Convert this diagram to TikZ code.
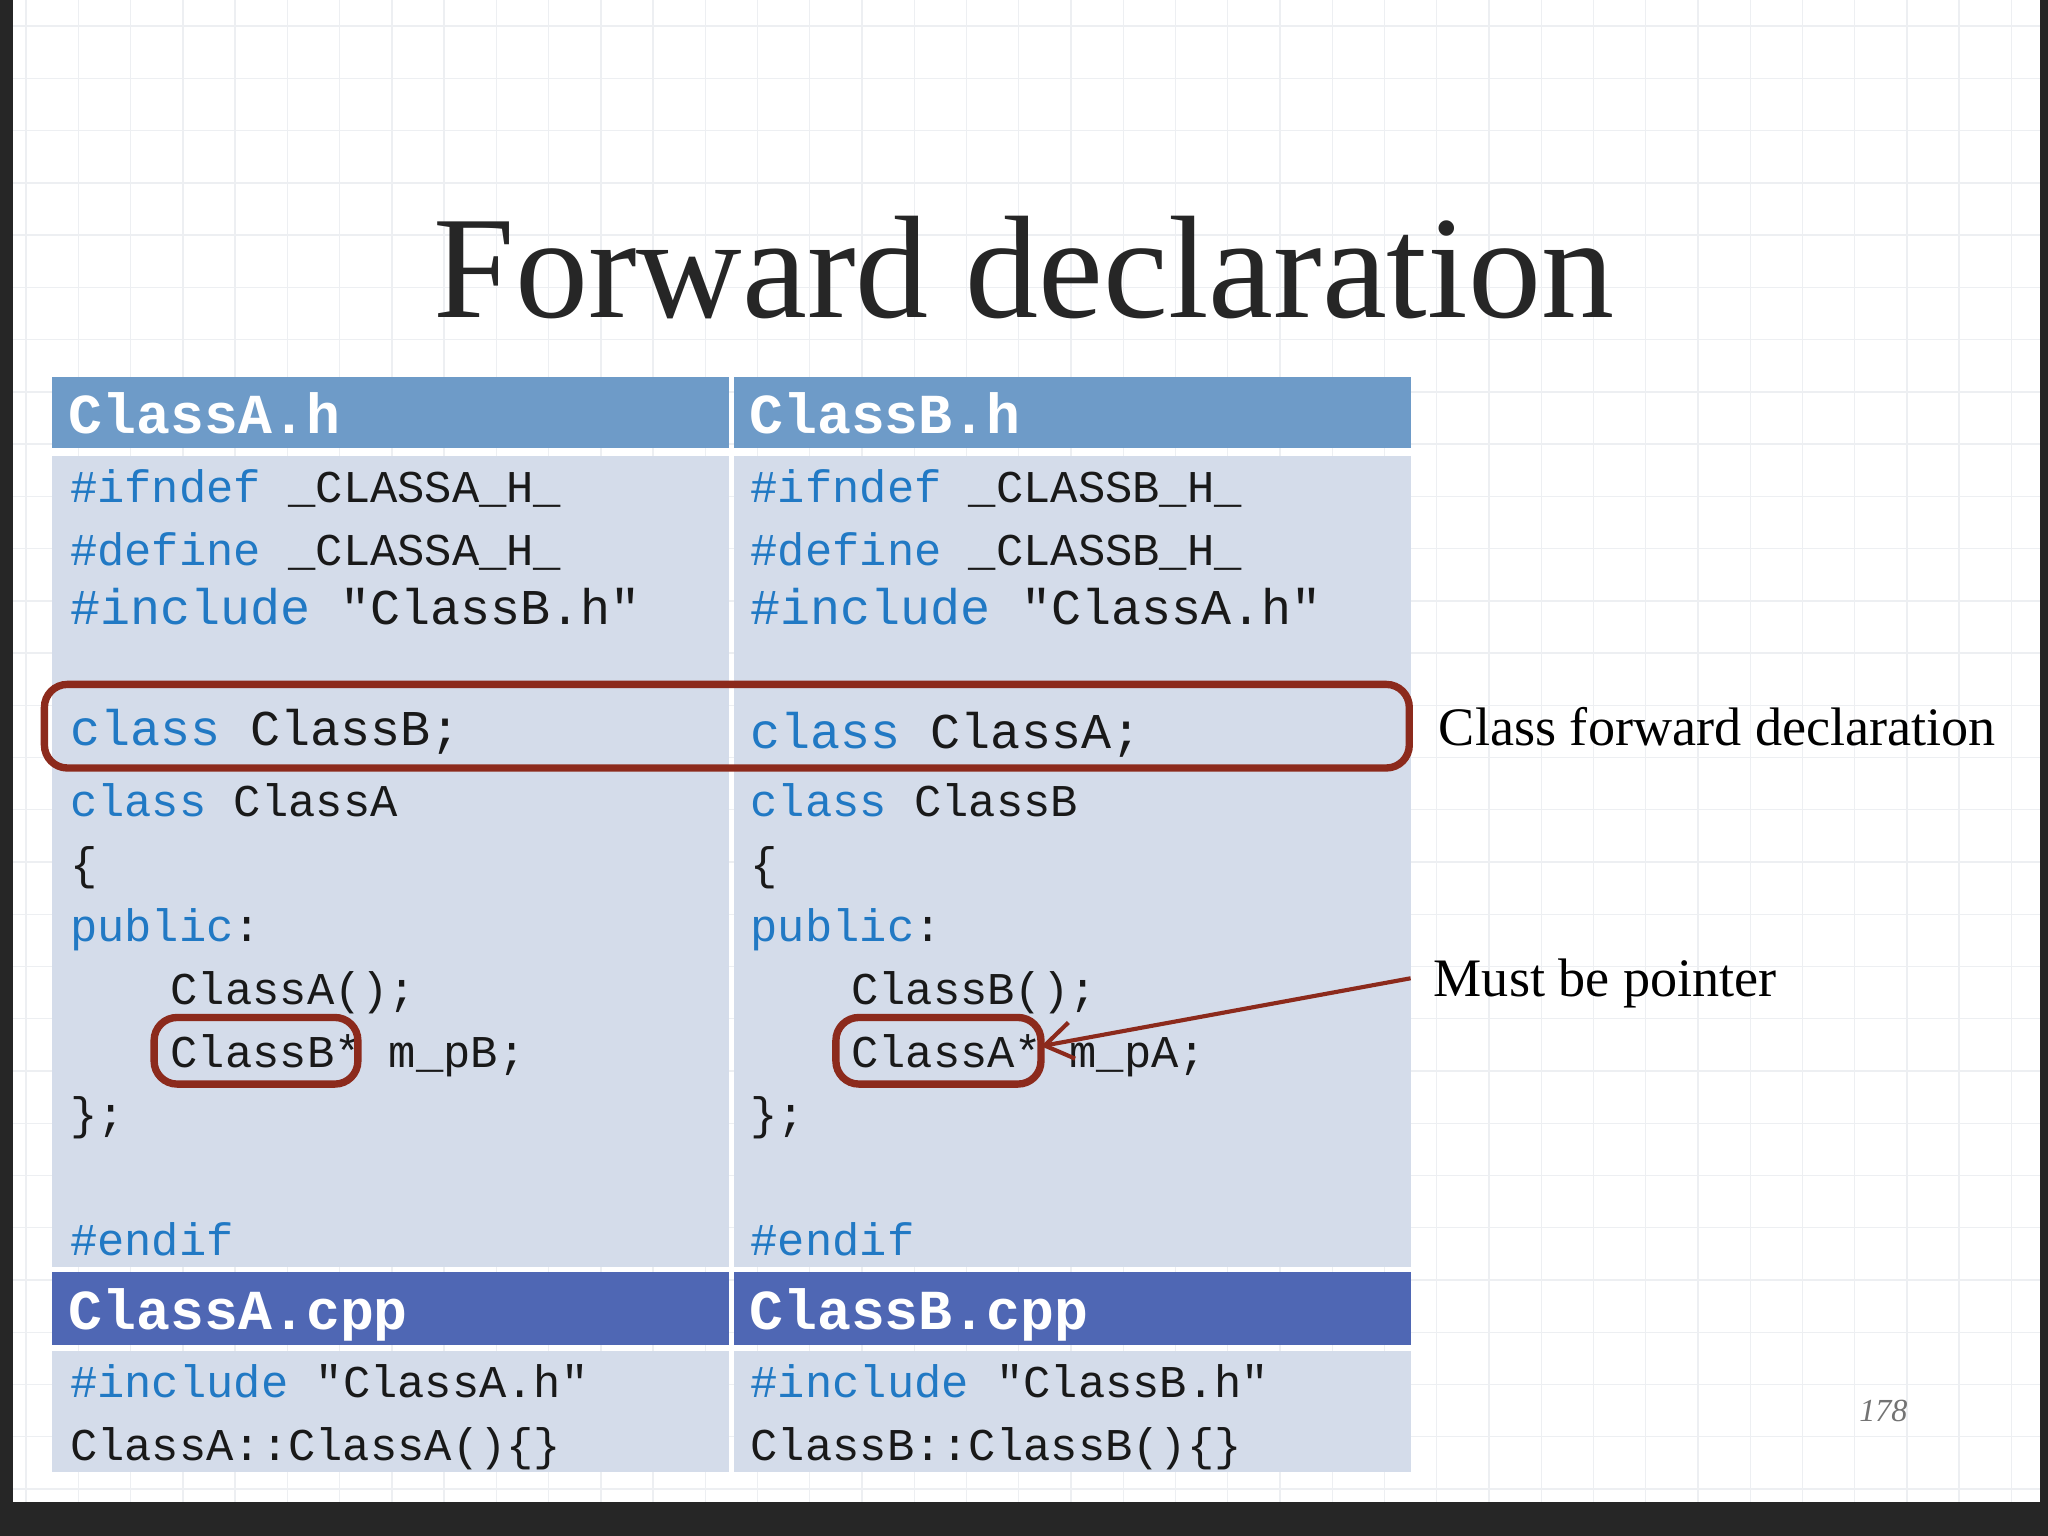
\documentclass[tikz,border=0pt]{standalone}
\usepackage{fontspec}
\setmainfont{Liberation Serif}
\setmonofont{Liberation Mono}
\usetikzlibrary{arrows.meta,positioning}
\definecolor{hdrblue}{HTML}{6E9BC8}
\definecolor{hdrdark}{HTML}{4F67B4}
\definecolor{bodyblue}{HTML}{D4DCEA}
\definecolor{kwblue}{HTML}{2179C4}
\definecolor{markred}{HTML}{8C2A1C}
\definecolor{gridgray}{HTML}{EDEFF2}
\tikzset{
    % Header cell text
    hdrtext/.style={
        anchor=base west,
        text=white,
        font=\fontsize{12.3}{14}\selectfont\ttfamily\bfseries,
        inner sep=0pt
    },
    % Code line
    codeline/.style={
        anchor=base west,
        text=black!90,
        font=\fontsize{9.9}{12}\selectfont\ttfamily,
        inner sep=0pt
    },
    % Larger code line
    bigline/.style={
        codeline,
        font=\fontsize{10.9}{13}\selectfont\ttfamily
    },
    % Red marker box
    markbox/.style={
        draw=markred,
        line width=1.6pt,
        rounded corners=5pt
    },
    % Side note
    notetext/.style={
        anchor=base west,
        font=\fontsize{11.8}{14}\selectfont,
        inner sep=0pt
    }
}
\newcommand{\kw}[1]{\textcolor{kwblue}{#1}}
\begin{document}
\begin{tikzpicture}[x=0.01cm, y=-0.01cm]
    \useasboundingbox (0,0) rectangle (1568,1176);
    \fill[black!85] (0,0) rectangle (1568,1176);
    \fill[white] (10,0) rectangle (1562,1150);
    \foreach \gx in {20,60,...,1560} \draw[gridgray, line width=0.3pt] (\gx,0) -- (\gx,1150);
    \foreach \gy in {20,60,...,1140} \draw[gridgray, line width=0.3pt] (10,\gy) -- (1562,\gy);

    % Title
    \node[font=\fontsize{31.8}{36}\selectfont, text=black!85] (title) at (784,205) {Forward declaration};

    % Cells
    \fill[hdrblue] (40,289) rectangle (558,343);
    \fill[hdrblue] (562,289) rectangle (1080,343);
    \fill[bodyblue] (40,349) rectangle (558,970);
    \fill[bodyblue] (562,349) rectangle (1080,970);
    \fill[hdrdark] (40,974) rectangle (558,1030);
    \fill[hdrdark] (562,974) rectangle (1080,1030);
    \fill[bodyblue] (40,1034) rectangle (558,1127);
    \fill[bodyblue] (562,1034) rectangle (1080,1127);

    % Left column
    \node[hdrtext] (ha) at (52,332) {ClassA.h};
    \node[codeline] (a1) at (53,385) {\kw{\#ifndef} \_CLASSA\_H\_};
    \node[codeline] (a2) at (53,433) {\kw{\#define} \_CLASSA\_H\_};
    \node[bigline] (a3) at (53,478) {\kw{\#include} "ClassB.h"};
    \node[bigline] (a4) at (53,571) {\kw{class} ClassB;};
    \node[codeline] (a5) at (53,625) {\kw{class} ClassA};
    \node[codeline] (a6) at (53,673) {\{};
    \node[codeline] (a7) at (53,721) {\kw{public}:};
    \node[codeline] (a8) at (130,769) {ClassA();};
    \node[codeline] (a9) at (130,817) {ClassB* m\_pB;};
    \node[codeline] (a10) at (53,865) {\};};
    \node[codeline] (a11) at (53,961) {\kw{\#endif}};
    \node[hdrtext] (ca) at (52,1018) {ClassA.cpp};
    \node[codeline] (a12) at (53,1070) {\kw{\#include} "ClassA.h"};
    \node[codeline] (a13) at (53,1118) {ClassA::ClassA()\{\}};

    % Right column
    \node[hdrtext] (hb) at (573,332) {ClassB.h};
    \node[codeline] (b1) at (574,385) {\kw{\#ifndef} \_CLASSB\_H\_};
    \node[codeline] (b2) at (574,433) {\kw{\#define} \_CLASSB\_H\_};
    \node[bigline] (b3) at (574,478) {\kw{\#include} "ClassA.h"};
    \node[bigline] (b4) at (574,573) {\kw{class} ClassA;};
    \node[codeline] (b5) at (574,625) {\kw{class} ClassB};
    \node[codeline] (b6) at (574,673) {\{};
    \node[codeline] (b7) at (574,721) {\kw{public}:};
    \node[codeline] (b8) at (651,769) {ClassB();};
    \node[codeline] (b9) at (651,817) {ClassA* m\_pA;};
    \node[codeline] (b10) at (574,865) {\};};
    \node[codeline] (b11) at (574,961) {\kw{\#endif}};
    \node[hdrtext] (cb) at (573,1018) {ClassB.cpp};
    \node[codeline] (b12) at (574,1070) {\kw{\#include} "ClassB.h"};
    \node[codeline] (b13) at (574,1118) {ClassB::ClassB()\{\}};

    % Markers
    \draw[markbox] (34,524) rectangle (1079,588);
    \draw[markbox] (118,779) rectangle (274,830);
    \draw[markbox] (640,779) rectangle (797,830);
    \coordinate (ptrend) at (797,801);

    % Notes
    \node[notetext] (fwd) at (1101,571) {Class forward declaration};
    \node[notetext] (ptr) at (1097,763) {Must be pointer};
    \coordinate (ptrstart) at (1080,749);
    \draw[markred, line width=0.9pt, -{Straight Barb[length=6pt,width=8pt]}] (ptrstart) -- (ptrend);

    % Page number
    \node[font=\fontsize{7}{8}\selectfont\itshape, text=black!55] (page) at (1442,1080) {178};
\end{tikzpicture}
\end{document}
